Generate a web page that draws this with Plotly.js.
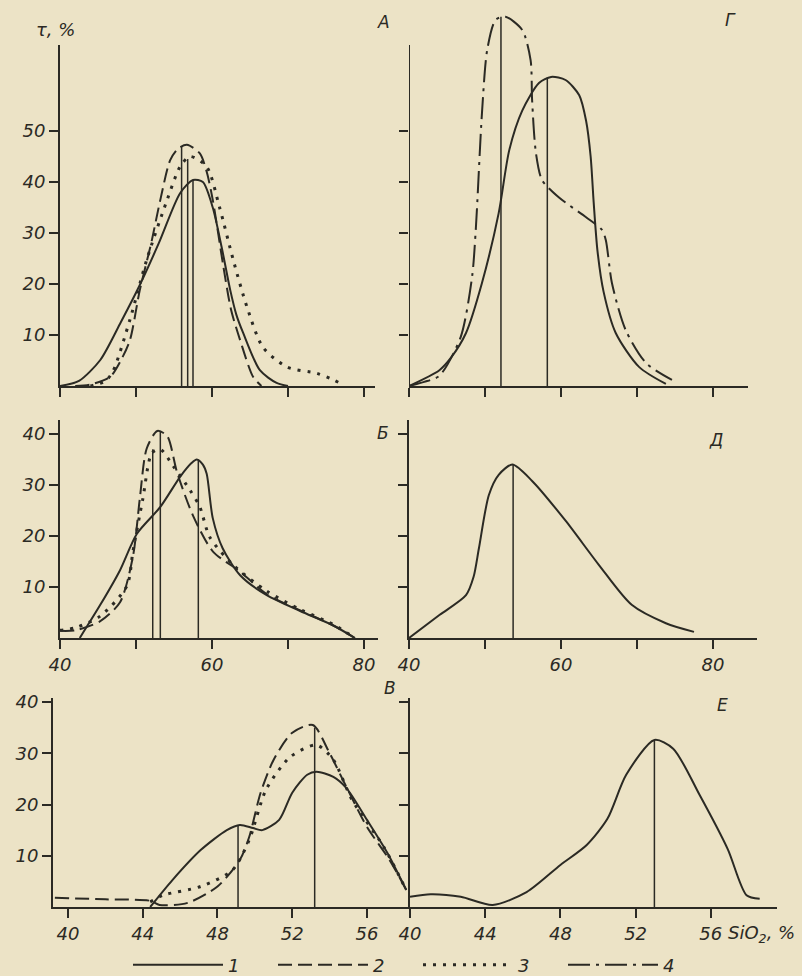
<!DOCTYPE html>
<html><head><meta charset="utf-8">
<script src="https://cdn.plot.ly/plotly-3.0.1.min.js"></script>
<style>html,body{margin:0;padding:0;background:#ece3c6;}#chart{width:802px;height:976px;}</style>
</head><body><div id="chart"></div>
<script>
// ---------- data (SiO2, %  vs  τ, %) ----------
// Panel А
const A1_x = [40, 42.5, 45.3, 48, 50.5, 53, 55.8, 57.5, 58.8, 60.1, 61.3, 62.4, 63.2, 64.1, 66.3, 68.5, 70];
const A1_y = [0, 1, 5.1, 12.5, 19.8, 28, 37.8, 40.4, 40, 35, 27, 18.8, 14, 10.4, 3.1, 0.6, 0];
const A2_x = [42, 44, 46.6, 48, 49.2, 50.5, 52, 53.2, 54.5, 55.5, 56.7, 58.4, 59.3, 60.1, 61.5, 62.5, 63.7, 65.4, 66.5];
const A2_y = [0, 0.3, 1.8, 5, 9, 18.8, 28, 36.5, 44.3, 46.5, 47.3, 45.6, 42, 36.5, 23.4, 15, 9, 1.8, 0];
const A3_x = [44, 46, 47, 49.2, 51.4, 54.1, 55.8, 57.1, 59.3, 61, 62.8, 64.6, 66.7, 69.9, 73.8, 75.5, 76.8];
const A3_y = [0, 1, 3, 13, 24.7, 36.5, 43, 45, 43, 35, 24.7, 15.5, 7.6, 3.7, 2.5, 1.5, 0.6];
const A_med_x = [56.0, 56.8, 57.5];
const A_med_y = [47, 44.5, 40.4];

// Panel Г
const G1_x = [40, 44, 45.5, 47.5, 49.6, 51.8, 53.2, 54.9, 57.1, 58.7, 60.6, 62.4, 63.3, 63.9, 64.3, 64.8, 65.6, 67.2, 70.3, 73.8];
const G1_y = [0, 3.1, 5.5, 10.4, 20.2, 33.9, 46.3, 54, 59.4, 60.6, 60, 57, 52, 45, 36, 26.5, 18.5, 10.4, 3.7, 0.4];
const G4_x = [40, 42, 44, 46.8, 48.3, 48.8, 49.6, 50.3, 51.4, 52.7, 54.9, 56, 56.2, 56.7, 57.5, 59.7, 63.3, 65.4, 65.9, 66.7, 68.5, 71.2, 74.6];
const G4_y = [0, 0.8, 2, 9.6, 21.4, 31, 53.5, 66, 71.8, 72.4, 69.8, 63.9, 56, 45.7, 40.4, 37, 33.1, 30.6, 28.6, 20.2, 11, 4.5, 1.2];
const G_med_x = [52.1, 58.2];
const G_med_y = [72.4, 60.5];

// Panel Б
const B1_x = [42.6, 45.3, 47.9, 50.1, 53.2, 55.8, 57.3, 58, 58.8, 59.3, 60.1, 61.4, 63.7, 67.2, 71.6, 75.9, 78.8];
const B1_y = [0, 6.5, 13.3, 20.4, 25.7, 31.6, 34.3, 35, 34, 32.2, 23.5, 17.6, 12.3, 8.4, 5.3, 2.5, 0];
const B2_x = [40, 42, 45.3, 47.9, 49.6, 50.5, 51.4, 52.8, 54.1, 55.4, 57.5, 60.1, 63.7, 67.2, 71.6, 75.9, 78.8];
const B2_y = [1.4, 1.5, 3.3, 7, 16, 27.3, 37.1, 40.6, 39.6, 32.5, 24, 17, 13, 8.6, 5.4, 2.5, 0];
const B3_x = [40, 42, 45.3, 48.8, 49.6, 50.9, 52.1, 53.2, 54.9, 57.1, 58.4, 59.7, 62.8, 67.2, 71.6, 75.9, 78.8];
const B3_y = [1.5, 2, 4.3, 10.2, 17, 27.3, 36.3, 37, 33.7, 29, 25.7, 19.8, 14.3, 9.2, 5.6, 2.7, 0];
const B_med_x = [52.2, 53.2, 58.2];
const B_med_y = [37, 40.6, 35];

// Panel Д
const D1_x = [40, 44, 47.5, 48.5, 49.2, 50.5, 51.8, 53.6, 56.2, 60.6, 65, 69.3, 73.8, 77.5];
const D1_y = [0, 4.5, 8.4, 12, 17.6, 28, 32, 34, 30.8, 23, 14.3, 6.5, 2.9, 1.2];
const D_med_x = [53.7];
const D_med_y = [34];

// Panel В
const V1_x = [44.4, 45.6, 47.1, 48.5, 49.2, 49.9, 50.4, 51.3, 52, 52.8, 53.3, 54.2, 54.9, 56, 57.1, 58.1];
const V1_y = [0, 5.3, 11.1, 15, 16, 15.4, 15, 17, 22.3, 25.8, 26.4, 25.4, 23.2, 17, 10.5, 3.3];
const V2_x = [39.3, 42, 44.4, 44.9, 46.4, 48, 49.2, 49.7, 50.3, 51, 52, 53.1, 54, 54.9, 56, 57.2, 58.2];
const V2_y = [1.8, 1.5, 1.2, 0.4, 0.8, 4, 9.2, 13.7, 22.2, 28.7, 34, 35.5, 30, 23.4, 15.6, 9.2, 2.7];
const V3_x = [44.4, 45.1, 47.1, 48.8, 49.7, 50.6, 51.9, 53.3, 54.2, 55.2, 56.9, 58.1];
const V3_y = [1, 2.3, 4, 7.2, 13.1, 22.9, 29.3, 31.6, 28.7, 20.9, 11.7, 3.3];
const V_med_x = [49.1, 53.2];
const V_med_y = [16, 35];

// Panel Е
const E1_x = [40, 41.1, 42.7, 44.4, 46.2, 48, 49.4, 50.5, 51.5, 53, 54, 55.4, 56.9, 57.9, 58.6];
const E1_y = [2, 2.5, 2, 0.4, 2.9, 8.2, 12.1, 17.2, 25.8, 32.6, 30.9, 21.9, 11.3, 2.3, 1.6];
const E_med_x = [53.0];
const E_med_y = [32.6];

// tick labels
const yTicksA = [10, 20, 30, 40, 50];
const yTicks40 = [10, 20, 30, 40];
const xTicksWide = [40, 50, 60, 70, 80];
const xTextWide = ['40', ' ', '60', ' ', '80'];
const xTextNone = [' ', ' ', ' ', ' ', ' '];
const xTicksNarrow = [40, 44, 48, 52, 56];
const xTextNarrow = ['40', '44', '48', '52', '56'];
const seriesNames = ['1', '2', '3', '4'];

// ---------- styling ----------
const INK = '#2b2a24';
const BG = '#ece3c6';
const FONT = {family: 'DejaVu Sans', style: 'italic', color: INK, size: 18};
const W = 802, H = 976;
const px = v => v / W;
const py = v => 1 - v / H;
const STY = {
  '1': {dash: 'solid', width: 2},
  '2': {dash: '14px,6px', width: 2},
  '3': {dash: '3px,7px', width: 3},
  '4': {dash: '22px,6px,3px,6px', width: 2}
};

const traces = [];
function curve(x, y, s, ax, showLeg) {
  traces.push({x: x, y: y, xaxis: 'x' + ax, yaxis: 'y' + ax, mode: 'lines', name: seriesNames[+s - 1],
    legendgroup: s, showlegend: !!showLeg, hoverinfo: 'skip',
    line: {color: INK, width: STY[s].width, dash: STY[s].dash, shape: 'spline', smoothing: 0.75}});
}
function medians(mx, my, ax) {
  for (let i = 0; i < mx.length; i++) {
    traces.push({x: [mx[i], mx[i]], y: [0, my[i]], xaxis: 'x' + ax, yaxis: 'y' + ax,
      mode: 'lines', showlegend: false, hoverinfo: 'skip', line: {color: INK, width: 1.5}});
  }
}
// axis ids: '' = А, 2 = Г, 3 = Б, 4 = Д, 5 = В, 6 = Е
curve(A1_x, A1_y, '1', '', true);
curve(A2_x, A2_y, '2', '', true);
curve(A3_x, A3_y, '3', '', true);
medians(A_med_x, A_med_y, '');
curve(G1_x, G1_y, '1', '2');
curve(G4_x, G4_y, '4', '2', true);
medians(G_med_x, G_med_y, '2');
curve(B1_x, B1_y, '1', '3');
curve(B2_x, B2_y, '2', '3');
curve(B3_x, B3_y, '3', '3');
medians(B_med_x, B_med_y, '3');
curve(D1_x, D1_y, '1', '4');
medians(D_med_x, D_med_y, '4');
curve(V1_x, V1_y, '1', '5');
curve(V2_x, V2_y, '2', '5');
curve(V3_x, V3_y, '3', '5');
medians(V_med_x, V_med_y, '5');
curve(E1_x, E1_y, '1', '6');
medians(E_med_x, E_med_y, '6');

function xa(x0, x1, range, tv, tt, anchor) {
  return {domain: [px(x0), px(x1)], range: range, anchor: anchor, showgrid: false, zeroline: false,
    showline: true, linecolor: INK, linewidth: 2, ticks: 'outside', ticklen: 9, tickwidth: 2,
    tickcolor: INK, tickvals: tv, ticktext: tt, tickfont: FONT, fixedrange: true, automargin: false};
}
function ya(yBase, yTop, range, tv, showLab, anchor, showLine) {
  return {domain: [py(yBase), py(yTop)], range: range, anchor: anchor, showgrid: false, zeroline: false,
    showline: showLine !== false, linecolor: INK, linewidth: 2, ticks: 'outside', ticklen: 9, tickwidth: 2,
    tickcolor: INK, tickvals: tv, showticklabels: showLab, tickfont: FONT, fixedrange: true, automargin: false};
}
function ann(text, x, y, extra) {
  return Object.assign({text: text, x: px(x), y: py(y), xref: 'paper', yref: 'paper', showarrow: false,
    xanchor: 'center', yanchor: 'middle', font: FONT}, extra || {});
}
const k = 5.1; // px per τ unit (top panels)
const rA = (386 - 45) / k;
const layout = {
  width: W, height: H, margin: {l: 0, r: 0, t: 0, b: 0, autoexpand: false},
  paper_bgcolor: BG, plot_bgcolor: 'rgba(0,0,0,0)', font: FONT,
  xaxis: xa(60, 375, [40, 40 + 315 / 7.6], xTicksWide, xTextNone, 'y'),
  yaxis: ya(386, 45, [0, rA], yTicksA, true, 'x'),
  xaxis2: xa(409, 748, [40, 40 + 339 / 7.6], xTicksWide, xTextNone, 'y2'),
  yaxis2: ya(386, 10, [0, (386 - 10) / k], yTicksA, false, 'x2', false),
  xaxis3: xa(60, 378, [40, 40 + 318 / 7.6], xTicksWide, xTextWide, 'y3'),
  yaxis3: ya(638, 420, [0, 218 / k], yTicks40, true, 'x3'),
  xaxis4: xa(409, 757, [40, 40 + 348 / 7.6], xTicksWide, xTextWide, 'y4'),
  yaxis4: ya(638, 420, [0, 218 / k], yTicks40, false, 'x4'),
  xaxis5: xa(53, 410, [39.2, 58.3], xTicksNarrow, xTextNarrow, 'y5'),
  yaxis5: ya(907, 698, [0, 209 / 5.125], yTicks40, true, 'x5'),
  xaxis6: xa(410, 777, [40, 40 + 367 / 18.8], xTicksNarrow, xTextNarrow, 'y6'),
  yaxis6: ya(907, 698, [0, 209 / 5.125], yTicks40, false, 'x6'),
  shapes: [{type: 'line', xref: 'x2', yref: 'y2', x0: 40, x1: 40, y0: 0, y1: rA,
    line: {color: INK, width: 2}}],
  showlegend: true,
  legend: {orientation: 'h', x: px(128), xanchor: 'left', y: py(965), yanchor: 'middle',
    font: FONT, bgcolor: 'rgba(0,0,0,0)', itemwidth: 90,
    entrywidth: 40, entrywidthmode: 'pixels', itemclick: false, itemdoubleclick: false},
  annotations: [
    ann('τ, %', 55, 30),
    ann('А', 383, 22, {font: Object.assign({}, FONT, {size: 17})}),
    ann('Г', 730, 20, {font: Object.assign({}, FONT, {size: 17})}),
    ann('Б', 383, 433, {font: Object.assign({}, FONT, {size: 17})}),
    ann('Д', 716, 440, {font: Object.assign({}, FONT, {size: 17})}),
    ann('В', 390, 688, {font: Object.assign({}, FONT, {size: 17})}),
    ann('Е', 722, 705, {font: Object.assign({}, FONT, {size: 17})}),
    ann('SiO<sub>2</sub>, %', 726, 934, {xanchor: 'left'})
  ]
};
Plotly.newPlot('chart', traces, layout, {displayModeBar: false, staticPlot: true});
</script></body></html>
